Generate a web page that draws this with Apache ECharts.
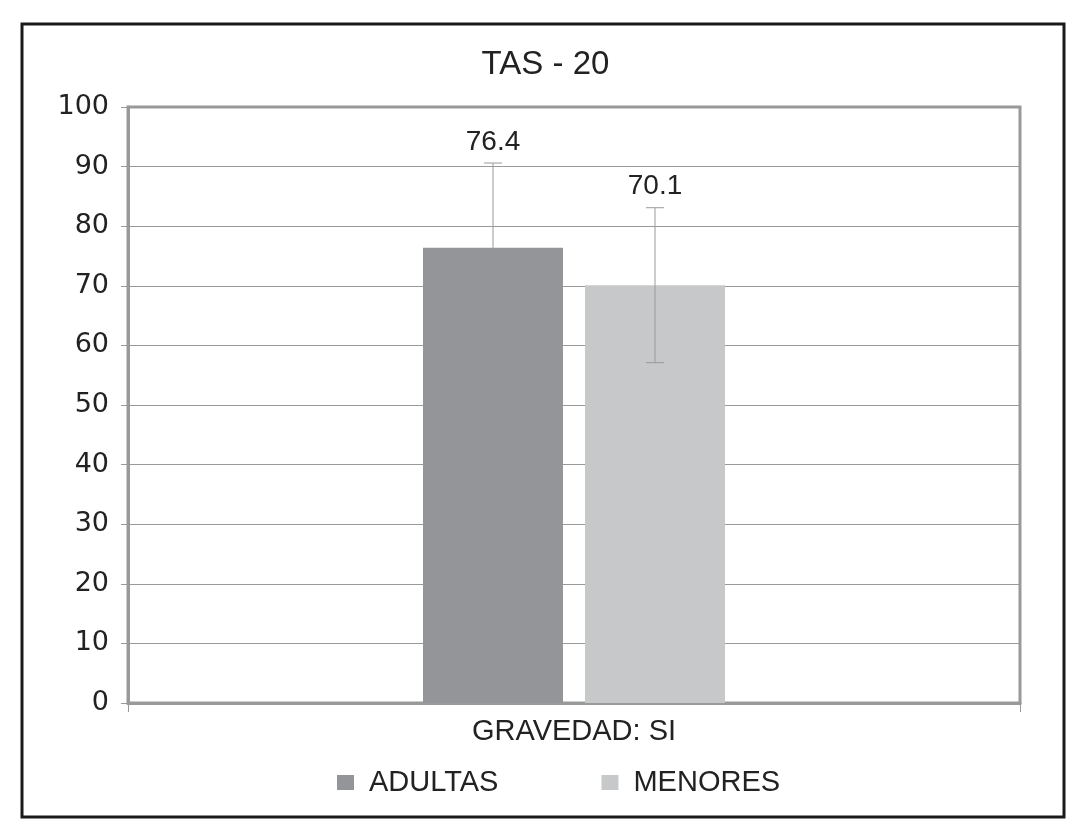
<!DOCTYPE html>
<html>
<head>
<meta charset="utf-8">
<script src="https://cdn.jsdelivr.net/npm/echarts@6/dist/echarts.min.js"></script>
<style>
	html, body { margin: 0; padding: 0; background: #ffffff; }
	#chart { width: 1091px; height: 833px; }
</style>
</head>
<body>
<div id="chart"></div>
<script>
/**
 * TAS - 20 barras con error
 * */

// 数据
var categories = ['GRAVEDAD: SI'];
var seriesNames = ['ADULTAS', 'MENORES'];
var seriesValues = [76.4, 70.1];
var seriesErrors = [14.2, 13.0];
var seriesColors = ['#939598', '#c7c8ca'];
var yTicks = { min: 0, max: 100, interval: 10 };

var barWidth = 140;
var barGap = 22;

var chart = echarts.init(document.getElementById('chart'));

// 误差线 + 数值标签
function renderError(params, api) {
	var idx = api.value(3);
	var val = api.value(1);
	var err = api.value(2);
	var center = api.coord([api.value(0), val]);
	var offset = (idx - (seriesValues.length - 1) / 2) * (barWidth + barGap);
	var x = center[0] + offset;
	var mid = center[1];
	var top = api.coord([api.value(0), val + err])[1];
	var bottom = api.coord([api.value(0), val - err])[1];
	var cap = 9;
	var style = { stroke: '#999999', lineWidth: 1 };
	//深色柱子里的下半段几乎看不见
	var lowStyle = { stroke: idx === 0 ? seriesColors[0] : '#999999', lineWidth: 1 };
	return {
		type: 'group',
		children: [
			{ type: 'line', shape: { x1: x, y1: top, x2: x, y2: mid }, style: style },
			{ type: 'line', shape: { x1: x, y1: mid, x2: x, y2: bottom }, style: lowStyle },
			{ type: 'line', shape: { x1: x - cap, y1: top, x2: x + cap, y2: top }, style: style },
			{ type: 'line', shape: { x1: x - cap, y1: bottom, x2: x + cap, y2: bottom }, style: lowStyle },
			{
				type: 'text',
				x: x,
				y: top - 7,
				style: {
					text: val.toFixed(1),
					fontFamily: 'Liberation Sans',
					fontSize: 28,
					fill: '#222222',
					align: 'center',
					verticalAlign: 'bottom'
				}
			}
		]
	};
}

var series = [];
seriesNames.forEach(function (name, i) {
	series.push({
		name: name,
		type: 'bar',
		barWidth: barWidth,
		barGap: (barGap / barWidth * 100) + '%',
		itemStyle: { color: seriesColors[i] },
		data: [seriesValues[i]],
		z: 2
	});
});
series.push({
	type: 'custom',
	renderItem: renderError,
	encode: { x: 0, y: 1 },
	data: seriesValues.map(function (v, i) { return [0, v, seriesErrors[i], i]; }),
	z: 5,
	silent: true
});

var option = {
	backgroundColor: '#ffffff',
	animation: false,
	title: {
		text: 'TAS - 20',
		left: 'center',
		top: 43,
		textStyle: { fontFamily: 'Liberation Sans', fontSize: 33, fontWeight: 'normal', color: '#222222' }
	},
	legend: {
		data: seriesNames,
		left: 332,
		top: 763,
		icon: 'rect',
		itemWidth: 17,
		itemHeight: 15,
		itemGap: 103,
		textStyle: { fontFamily: 'Liberation Sans', fontSize: 29, color: '#222222', padding: [0, 0, 0, 10] }
	},
	grid: {
		left: 128,
		right: 71,
		top: 107,
		bottom: 130,
		show: true,
		borderColor: '#999999',
		borderWidth: 3
	},
	xAxis: {
		type: 'category',
		data: categories,
		axisLine: { lineStyle: { color: '#999999', width: 3 } },
		axisTick: { show: true, length: 9, lineStyle: { color: '#999999' } },
		axisLabel: { fontFamily: 'Liberation Sans', fontSize: 29, color: '#222222', margin: 14 }
	},
	yAxis: {
		type: 'value',
		min: yTicks.min,
		max: yTicks.max,
		interval: yTicks.interval,
		axisLine: { show: true, lineStyle: { color: '#999999', width: 3 } },
		axisTick: { show: true, length: 7, lineStyle: { color: '#999999' } },
		axisLabel: { fontFamily: 'DejaVu Sans', fontSize: 27, color: '#222222', margin: 19 },
		splitLine: { lineStyle: { color: '#999999', width: 1 } }
	},
	graphic: [{
		type: 'rect',
		shape: { x: 22, y: 24, width: 1042, height: 793 },
		style: { fill: 'none', stroke: '#1a1a1a', lineWidth: 3 },
		silent: true
	}],
	series: series
};

chart.setOption(option);
</script>
</body>
</html>
